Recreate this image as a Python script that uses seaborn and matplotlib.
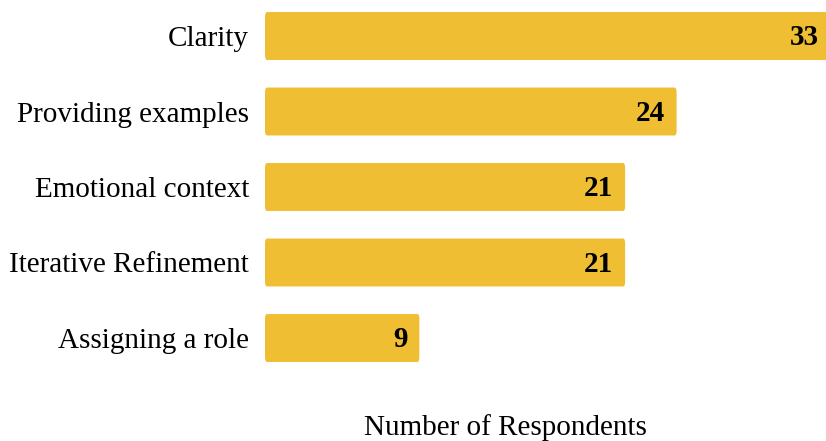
import matplotlib
matplotlib.use("Agg")
import matplotlib.pyplot as plt
import seaborn as sns
import pandas as pd
from matplotlib.patches import FancyBboxPatch

categories = ["Clarity", "Providing examples", "Emotional context",
              "Iterative Refinement", "Assigning a role"]
respondents = [33, 24, 21, 21, 9]

df = pd.DataFrame({"technique": categories, "count": respondents})

sns.set_theme(style="white")
plt.rcParams["font.family"] = ["Liberation Serif", "DejaVu Serif"]

W, H = 826, 441
fig = plt.figure(figsize=(W / 100, H / 100), dpi=100)
ax = fig.add_axes([265 / W, 71 / H, (W - 265) / W, 370 / H])

bar_color = "#F0BE32"
sns.barplot(data=df, x="count", y="technique", orient="h", color=bar_color,
            saturation=1, width=0.635, ax=ax)

# swap plain rectangles for slightly rounded ones
for p in list(ax.patches):
    x, y = p.get_x(), p.get_y()
    w, h = p.get_width(), p.get_height()
    p.remove()
    rb = FancyBboxPatch((x, y), w, h, boxstyle="round,pad=0,rounding_size=0.12",
                        mutation_aspect=0.55, facecolor=bar_color, edgecolor="none")
    ax.add_patch(rb)

ax.set_xlim(0, 561 / 17.15)
ax.set_ylim(4.424, -0.477)

for i, v in enumerate(respondents):
    ax.annotate(str(v), xy=(v, i), xytext=(-8.6, -1.2), textcoords="offset points",
                ha="right", va="center", fontsize=21, fontweight="bold",
                color="black", annotation_clip=False)

ax.set_xlabel("")
ax.set_ylabel("")
ax.set_xticks([])
ax.tick_params(axis="y", length=0, pad=11.5, labelsize=21, labelcolor="black")
for s in ax.spines.values():
    s.set_visible(False)

fig.text(505 / W, 1 - 428 / H, "Number of Respondents", ha="center", va="center",
         fontsize=21, color="black")

fig.savefig("out.png", dpi=100)
